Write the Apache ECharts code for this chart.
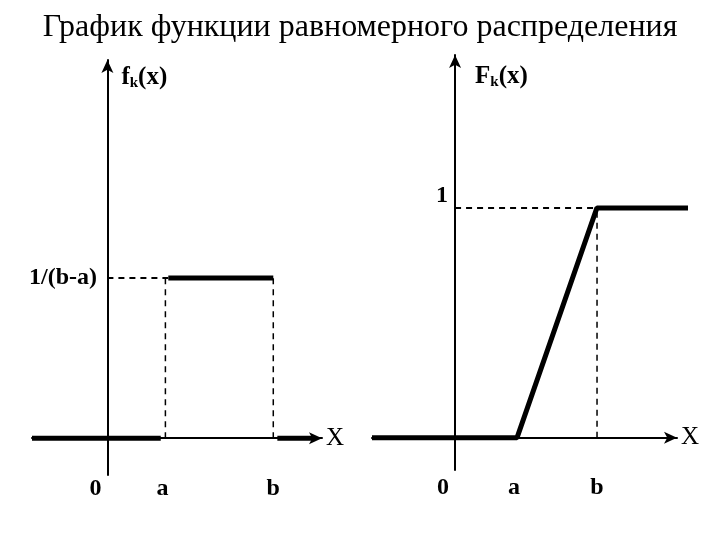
<!DOCTYPE html>
<html><head><meta charset="utf-8">
<script src="https://cdn.jsdelivr.net/npm/echarts@6/dist/echarts.min.js"></script>
<style>html,body{margin:0;padding:0;background:#fff}#c{width:720px;height:540px}</style>
</head><body><div id="c"></div>
<script>
// ---- data ----
const titleText = 'График функции равномерного распределения';
// left: density f_k(x), a = 1, b = 2.86, height 1/(b-a) = 1
const leftXTicks = [0, 1, 2.86];
const leftXLabels = ['0', 'a', 'b'];
const leftYTicks = [1];
const leftYLabels = ['1/(b-a)'];
const leftBelowA = [[-1.3, 0], [0.92, 0]];
const leftTop = [[1.05, 1], [2.86, 1]];
const leftAboveB = [[2.93, 0], [3.58, 0]];
const leftDashA = [[1, 0], [1, 1]];
const leftDashB = [[2.86, 0], [2.86, 1]];
const leftDashH = [[0, 1], [1.05, 1]];
// right: CDF F_k(x), a = 1, b = 2.29
const rightXTicks = [0, 1, 2.29];
const rightXLabels = ['0', 'a', 'b'];
const rightYTicks = [1];
const rightYLabels = ['1'];
const rightCdf = [[-1.34, 0], [1, 0], [2.29, 1], [3.76, 1]];
const rightDashH = [[0, 1], [2.29, 1]];
const rightDashV = [[2.29, 0], [2.29, 1]];

const LF = '"Liberation Serif", "Times New Roman", serif';
const labelStyle = {fontFamily: LF, fontWeight: 'bold', fontSize: 24, color: '#000'};

function xLabelFmt(ticks, labels) {
  return function (v) {
    const i = ticks.findIndex(t => Math.abs(t - v) < 1e-6);
    if (i < 0) return '';
    const key = i === 0 ? 'z' : (i === 1 ? 'a' : 'b');
    return '{' + key + '|' + labels[i] + '}';
  };
}
const xRich = {
  z: Object.assign({padding: [0, 24, 0, 0]}, labelStyle),
  a: Object.assign({padding: [0, 6, 0, 0]}, labelStyle),
  b: Object.assign({}, labelStyle)
};

function mkX(gi, min, max, ticks, labels, margin) {
  return {
    type: 'value', gridIndex: gi, min: min, max: max,
    splitLine: {show: false},
    axisLine: {show: true, onZero: true, symbol: ['none', 'arrow'], symbolSize: [9, 13],
      lineStyle: {color: '#000', width: 2}},
    axisTick: {show: false},
    axisLabel: {show: true, customValues: ticks, margin: margin, formatter: xLabelFmt(ticks, labels), rich: xRich},
    name: 'X', nameLocation: 'end', nameGap: 4,
    nameTextStyle: {fontFamily: LF, fontSize: 25, color: '#000', verticalAlign: 'middle', padding: [8, 0, 0, 0]}
  };
}
function mkY(gi, min, max, ticks, labels, nameText, lblVA, margin, namePad) {
  return {
    type: 'value', gridIndex: gi, min: min, max: max,
    splitLine: {show: false},
    axisLine: {show: true, onZero: true, symbol: ['none', 'arrow'], symbolSize: [9, 13],
      lineStyle: {color: '#000', width: 2}},
    axisTick: {show: false},
    axisLabel: Object.assign({show: true, customValues: ticks, margin: margin, align: 'right', verticalAlign: lblVA,
      formatter: function (v) { const i = ticks.findIndex(t => Math.abs(t - v) < 1e-6); return i < 0 ? '' : labels[i]; }}, labelStyle),
    name: nameText, nameLocation: 'end', nameGap: -4,
    nameTextStyle: {align: 'left', verticalAlign: 'top', padding: namePad, rich: nameRich}
  };
}
const nameRich = {
  m: {fontFamily: LF, fontWeight: 'bold', fontSize: 25, color: '#000'},
  s: {fontFamily: LF, fontWeight: 'bold', fontSize: 15, color: '#000', verticalAlign: 'bottom', padding: [12, 0, 0, 0]}
};
function hiddenAxis(gi, min, max) {
  return {type: 'value', gridIndex: gi, min: min, max: max, show: false};
}

function line(xi, data, w, dashed) {
  return {
    type: 'line', xAxisIndex: xi, yAxisIndex: xi, data: data, symbol: 'none', clip: false,
    silent: true, animation: false,
    lineStyle: {color: '#000', width: w, type: dashed ? [6, 5] : 'solid', cap: 'butt'}
  };
}

const chart = echarts.init(document.getElementById('c'), null, {renderer: 'canvas'});
chart.setOption({
  backgroundColor: '#fff',
  animation: false,
  title: {text: titleText, left: 'center', top: 7,
    textStyle: {fontFamily: LF, fontWeight: 'normal', fontSize: 32, color: '#000'}},
  grid: [
    {left: 32, width: 290, top: 60, height: 415, outerBoundsMode: 'none', containLabel: false},
    {left: 372, width: 305, top: 55, height: 415, outerBoundsMode: 'none', containLabel: false},
    // overlay grid sharing the right panel's scale, wide enough for the F(x) tail
    {left: 372, width: 316, top: 55, height: 415, outerBoundsMode: 'none', containLabel: false}
  ],
  xAxis: [mkX(0, -1.3, 3.7, leftXTicks, leftXLabels, 2), mkX(1, -1.34, 3.58, rightXTicks, rightXLabels, 6),
    hiddenAxis(2, -1.34, 3.76)],
  yAxis: [
    mkY(0, -0.23, 2.36, leftYTicks, leftYLabels, '{m|f}{s|k}{m|(x)}', 'middle', -65, [0, 0, 0, 14]),
    mkY(1, -0.14, 1.665, rightYTicks, rightYLabels, '{m|F}{s|k}{m|(x)}', 'bottom', -76, [4, 0, 0, 20]),
    hiddenAxis(2, -0.14, 1.665)
  ],
  series: [
    line(0, leftBelowA, 5), line(0, leftTop, 5), line(0, leftAboveB, 5),
    line(0, leftDashA, 1.5, true), line(0, leftDashB, 1.5, true), line(0, leftDashH, 2, true),
    line(1, rightDashH, 2, true), line(1, rightDashV, 1.5, true),
    line(2, rightCdf, 5)
  ]
});
</script></body></html>
